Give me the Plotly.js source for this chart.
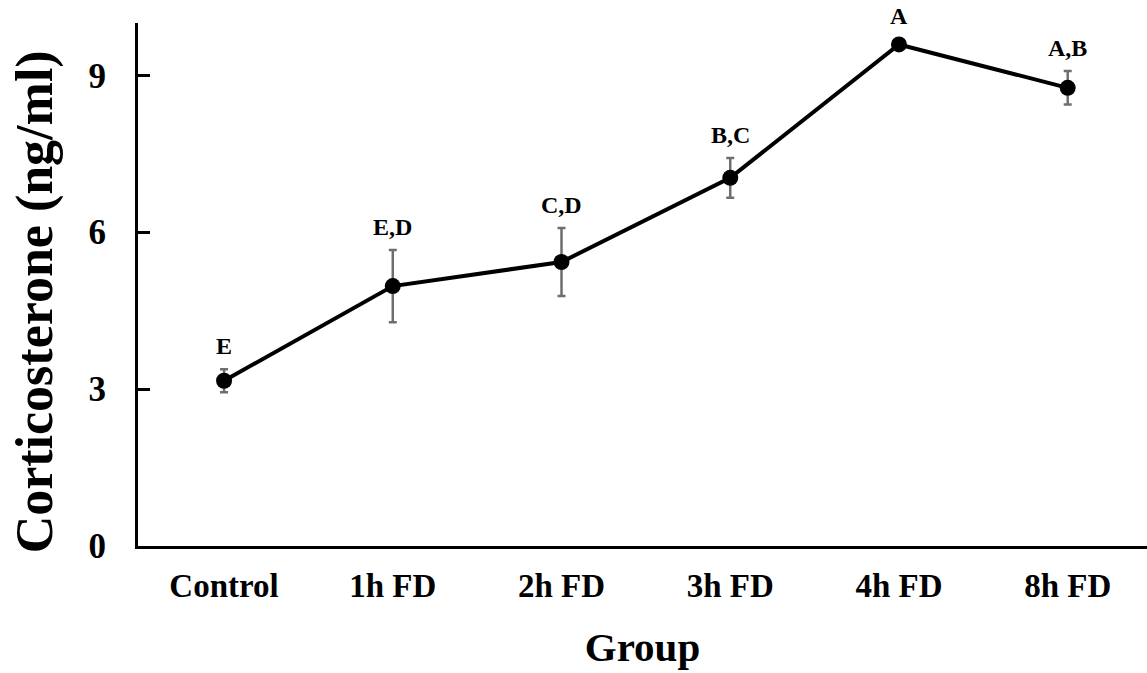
<!DOCTYPE html>
<html>
<head>
<meta charset="utf-8">
<script src="https://cdn.plot.ly/plotly-3.0.1.min.js"></script>
<style>
  html, body { margin: 0; padding: 0; background: #fff; }
  #chart { width: 1147px; height: 673px; }
</style>
</head>
<body>
<div id="chart"></div>
<script>
// Serum corticosterone by food-deprivation group (mean ± SE)
const groups = ['Control', '1h FD', '2h FD', '3h FD', '4h FD', '8h FD'];
const corticosterone = [3.16, 4.97, 5.43, 7.04, 9.59, 8.76];
const stdError = [0.22, 0.69, 0.65, 0.38, 0.10, 0.32];
const letters = ['E', 'E,D', 'C,D', 'B,C', 'A', 'A,B'];
const yTitle = 'Corticosterone (ng/ml)';

const serif = '"Liberation Serif", "Times New Roman", serif';

const trace = {
  type: 'scatter',
  mode: 'lines+markers',
  x: groups,
  y: corticosterone,
  line: { color: '#000', width: 4 },
  marker: { color: '#000', size: 16 },
  error_y: {
    type: 'data',
    array: stdError,
    visible: true,
    color: '#6e6e6e',
    thickness: 2.5,
    width: 4
  },
  hoverinfo: 'x+y'
};

// Significance letters sit just above each error bar
const annotations = groups.map((g, i) => ({
  x: g,
  y: corticosterone[i] + stdError[i],
  xref: 'x',
  yref: 'y',
  text: letters[i],
  showarrow: false,
  yanchor: 'middle',
  yshift: 23,
  font: { family: serif, size: 24, color: '#000', weight: 'bold' }
}));

// Vertical y-axis title, placed slightly below the plot's mid-height
annotations.push({
  xref: 'paper',
  yref: 'paper',
  x: -0.102,
  y: 0.466,
  xanchor: 'center',
  yanchor: 'middle',
  textangle: -90,
  borderpad: 0,
  text: yTitle,
  showarrow: false,
  font: { family: serif, size: 52, color: '#000', weight: 'bold' }
});

const layout = {
  width: 1147,
  height: 673,
  margin: { l: 138, r: 0, t: 23, b: 127 },
  paper_bgcolor: '#fff',
  plot_bgcolor: '#fff',
  showlegend: false,
  font: { family: serif, color: '#000' },
  xaxis: {
    type: 'category',
    range: [-0.51, 5.47],
    showline: true,
    linecolor: '#000',
    linewidth: 3,
    ticks: '',
    showgrid: false,
    zeroline: false,
    ticklabelstandoff: 8,
    tickfont: { family: serif, size: 33, color: '#000', weight: 'bold' },
    title: {
      text: 'Group',
      font: { family: serif, size: 41, color: '#000', weight: 'bold' },
      standoff: 30
    }
  },
  yaxis: {
    range: [0, 10],
    tickvals: [0, 3, 6, 9],
    ticktext: ['0', '3', '6', '9'],
    showline: true,
    linecolor: '#000',
    linewidth: 3,
    ticks: 'inside',
    ticklen: 12,
    tickwidth: 3,
    tickcolor: '#000',
    showgrid: false,
    zeroline: false,
    ticklabelstandoff: 22,
    tickfont: { family: serif, size: 35, color: '#000', weight: 'bold' }
  },
  annotations: annotations
};

Plotly.newPlot('chart', [trace], layout, { displayModeBar: false, staticPlot: true });
</script>
</body>
</html>
